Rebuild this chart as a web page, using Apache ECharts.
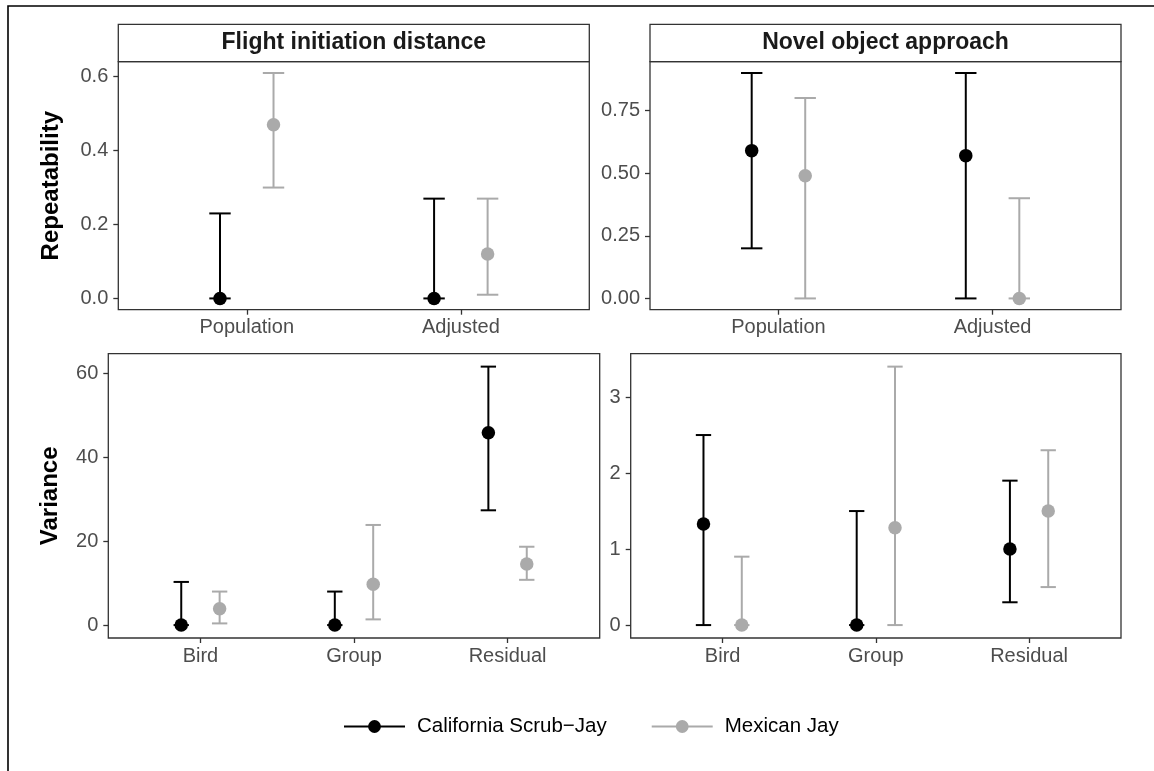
<!DOCTYPE html>
<html>
<head>
<meta charset="utf-8">
<script src="https://cdn.jsdelivr.net/npm/echarts@6/dist/echarts.min.js"></script>
<style>
  html, body { margin: 0; padding: 0; background: #fff; }
  #chart { width: 1154px; height: 771px; }
</style>
</head>
<body>
<div id="chart"></div>
<script>
// species
const speciesNames = ['California Scrub\u2212Jay', 'Mexican Jay'];
const speciesColors = ['#000000', '#AAAAAA'];

// repeatability panels
const repCats = ['Population', 'Adjusted'];
const fidScrubEst = [0, 0];
const fidScrubLow = [0, 0];
const fidScrubHigh = [0.23, 0.27];
const fidMexEst = [0.47, 0.12];
const fidMexLow = [0.30, 0.01];
const fidMexHigh = [0.61, 0.27];

const noaScrubEst = [0.59, 0.57];
const noaScrubLow = [0.20, 0];
const noaScrubHigh = [0.90, 0.90];
const noaMexEst = [0.49, 0];
const noaMexLow = [0, 0];
const noaMexHigh = [0.80, 0.40];

// variance panels
const varCats = ['Bird', 'Group', 'Residual'];
const fidVarScrubEst = [0, 0, 45.9];
const fidVarScrubLow = [0, 0, 27.4];
const fidVarScrubHigh = [10.3, 8.0, 61.7];
const fidVarMexEst = [3.9, 9.75, 14.6];
const fidVarMexLow = [0.4, 1.36, 10.8];
const fidVarMexHigh = [8.0, 23.9, 18.7];

const noaVarScrubEst = [1.33, 0, 1.0];
const noaVarScrubLow = [0, 0, 0.30];
const noaVarScrubHigh = [2.5, 1.5, 1.9];
const noaVarMexEst = [0, 1.28, 1.5];
const noaVarMexLow = [0, 0, 0.5];
const noaVarMexHigh = [0.9, 3.4, 2.3];

// tick labels
const fidTicks = [0, 0.2, 0.4, 0.6];
const noaTicks = [0, 0.25, 0.5, 0.75];
const fidVarTicks = [0, 20, 40, 60];
const noaVarTicks = [0, 1, 2, 3];

const stripTitles = ['Flight initiation distance', 'Novel object approach'];

const FONT = '"Liberation Sans", Arial, Helvetica, sans-serif';
const DODGE = 0.125;
const CAP = 0.05;

// panel boxes (left, top, width, height)
const panels = [
  { left: 118.3, top: 61.7, width: 471, height: 248 },
  { left: 650, top: 61.7, width: 471, height: 248 },
  { left: 108.3, top: 353.7, width: 491.4, height: 284.3 },
  { left: 630.7, top: 353.7, width: 490.3, height: 284.3 }
];

const panelData = [
  { cats: repCats, ticks: fidTicks, dec: 1,
    groups: [[fidScrubEst, fidScrubLow, fidScrubHigh], [fidMexEst, fidMexLow, fidMexHigh]] },
  { cats: repCats, ticks: noaTicks, dec: 2,
    groups: [[noaScrubEst, noaScrubLow, noaScrubHigh], [noaMexEst, noaMexLow, noaMexHigh]] },
  { cats: varCats, ticks: fidVarTicks, dec: 0,
    groups: [[fidVarScrubEst, fidVarScrubLow, fidVarScrubHigh], [fidVarMexEst, fidVarMexLow, fidVarMexHigh]] },
  { cats: varCats, ticks: noaVarTicks, dec: 0,
    groups: [[noaVarScrubEst, noaVarScrubLow, noaVarScrubHigh], [noaVarMexEst, noaVarMexLow, noaVarMexHigh]] }
];

function renderErrorBar(params, api) {
  const x = api.value(0), lo = api.value(1), hi = api.value(2);
  const top = api.coord([x, hi]);
  const bot = api.coord([x, lo]);
  const l = api.coord([x - CAP, hi])[0];
  const r = api.coord([x + CAP, hi])[0];
  const style = { stroke: api.visual('color'), lineWidth: 2 };
  return {
    type: 'group',
    children: [
      { type: 'line', shape: { x1: top[0], y1: top[1], x2: bot[0], y2: bot[1] }, style },
      { type: 'line', shape: { x1: l, y1: top[1], x2: r, y2: top[1] }, style },
      { type: 'line', shape: { x1: l, y1: bot[1], x2: r, y2: bot[1] }, style }
    ]
  };
}

const grids = [], xAxes = [], yAxes = [], pointSeries = [], barSeries = [];

panelData.forEach((p, i) => {
  const box = panels[i];
  grids.push({ left: box.left, top: box.top, width: box.width, height: box.height,
    show: true, borderColor: '#333333', borderWidth: 1.3, backgroundColor: '#fff' });

  const allHigh = Math.max(...p.groups.map(g => Math.max(...g[2])));
  const allLow = Math.min(...p.groups.map(g => Math.min(...g[1])));
  const pad = (allHigh - allLow) * 0.05;

  xAxes.push({
    type: 'value', gridIndex: i, min: 0.4, max: p.cats.length + 0.6,
    position: 'bottom',
    splitLine: { show: false }, axisLine: { show: false, onZero: false },
    axisTick: { show: true, length: 5, lineStyle: { color: '#333', width: 1.3 },
      customValues: p.cats.map((c, k) => k + 1) },
    axisLabel: { customValues: p.cats.map((c, k) => k + 1), margin: 8,
      color: '#4D4D4D', fontSize: 20, fontFamily: FONT,
      formatter: v => p.cats[Math.round(v) - 1] || '' }
  });

  yAxes.push({
    type: 'value', gridIndex: i, min: allLow - pad, max: allHigh + pad,
    position: 'left',
    splitLine: { show: false }, axisLine: { show: false, onZero: false },
    axisTick: { show: true, length: 5, lineStyle: { color: '#333', width: 1.3 },
      customValues: p.ticks },
    axisLabel: { customValues: p.ticks, margin: 10, color: '#4D4D4D',
      fontSize: 20, fontFamily: FONT, formatter: v => v.toFixed(p.dec) },
    name: i === 0 ? 'Repeatability' : (i === 2 ? 'Variance' : ''),
    nameLocation: 'middle', nameRotate: 90,
    nameGap: i === 0 ? 55 : 46,
    nameTextStyle: { fontSize: 24, fontWeight: 'bold', color: '#000', fontFamily: FONT }
  });

  p.groups.forEach((g, s) => {
    const off = s === 0 ? -DODGE : DODGE;
    pointSeries.push({
      type: 'line', name: speciesNames[s], xAxisIndex: i, yAxisIndex: i,
      data: g[0].map((v, k) => [k + 1 + off, v]),
      symbol: 'circle', symbolSize: 13.5, showSymbol: true,
      lineStyle: { opacity: 0, width: 2 },
      itemStyle: { color: speciesColors[s] },
      z: 4, silent: true, animation: false
    });
    barSeries.push({
      type: 'custom', name: speciesNames[s], xAxisIndex: i, yAxisIndex: i,
      data: g[0].map((v, k) => [k + 1 + off, g[1][k], g[2][k]]),
      encode: { x: 0, y: [1, 2] },
      itemStyle: { color: speciesColors[s] },
      renderItem: renderErrorBar, z: 3, silent: true, animation: false
    });
  });
});

const stripGraphics = [];
stripTitles.forEach((t, i) => {
  const box = panels[i];
  stripGraphics.push({
    type: 'rect', shape: { x: box.left, y: 24.3, width: box.width, height: box.top - 24.3 },
    style: { fill: '#fff', stroke: '#333333', lineWidth: 1.3 }, z: 10
  });
  stripGraphics.push({
    type: 'text', x: box.left + box.width / 2, y: 24.3 + (box.top - 24.3) / 2,
    style: { text: t, fill: '#1A1A1A', font: 'bold 23px ' + FONT, align: 'center', verticalAlign: 'middle' },
    z: 11
  });
});

const chart = echarts.init(document.getElementById('chart'));
chart.setOption({
  animation: false,
  backgroundColor: '#fff',
  grid: grids,
  xAxis: xAxes,
  yAxis: yAxes,
  legend: {
    data: speciesNames, left: 343, top: 716, padding: 0,
    itemWidth: 61, itemHeight: 16, itemGap: 44,
    lineStyle: { width: 2, opacity: 1 },
    textStyle: { fontSize: 20.5, color: '#000', fontFamily: FONT, padding: [0, 0, 0, 7] },
    selectedMode: false
  },
  graphic: [
    { type: 'rect', shape: { x: 8, y: 6, width: 1200, height: 800 },
      style: { fill: 'none', stroke: '#000', lineWidth: 1.6 }, z: 0, silent: true },
    ...stripGraphics
  ],
  series: [...pointSeries, ...barSeries]
});
</script>
</body>
</html>
